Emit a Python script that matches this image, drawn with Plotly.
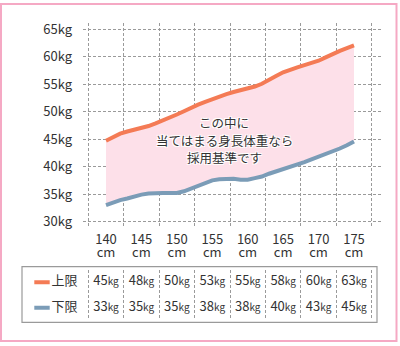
import plotly.graph_objects as go

# ---------------- data ----------------
heights = list(range(140, 176))
upper = [44.7, 45.4, 46.0, 46.4, 46.7, 47.0, 47.4, 47.9, 48.4, 48.9,
         49.5, 50.1, 50.8, 51.3, 51.8, 52.3, 52.8, 53.2, 53.6, 53.9,
         54.2, 54.6, 55.1, 55.7, 56.5, 57.2, 57.7, 58.1, 58.5, 58.9,
         59.3, 59.9, 60.6, 61.1, 61.6, 62.1]
lower = [33.0, 33.5, 33.9, 34.2, 34.6, 34.9, 35.1, 35.2, 35.2, 35.2,
         35.2, 35.5, 36.0, 36.5, 37.1, 37.5, 37.7, 37.8, 37.8, 37.6,
         37.6, 37.9, 38.2, 38.7, 39.1, 39.5, 39.9, 40.3, 40.8, 41.3,
         41.8, 42.2, 42.7, 43.3, 43.9, 44.6]

table_heights = [140, 145, 150, 155, 160, 165, 170, 175]
table_upper = [45, 48, 50, 53, 55, 58, 60, 63]
table_lower = [33, 35, 35, 38, 38, 40, 43, 45]
row_labels = ["上限", "下限"]

y_ticks = [30, 35, 40, 45, 50, 55, 60, 65]
y_tick_labels = [f"{v}kg" for v in y_ticks]
x_tick_numbers = [str(h) for h in table_heights]
x_tick_units = ["cm"] * len(table_heights)
cell_edges = [137.5 + 5 * i for i in range(9)]

note_lines = ["この中に", "当てはまる身長体重なら", "採用基準です"]

# ---------------- style ----------------
W, H = 400, 346
FONT = "Noto Sans CJK JP"
C_UP = "#f47b55"
C_LO = "#7b9cb7"
C_FILL = "#fde0e9"
C_GRID = "#9a9a9a"
C_TXT = "#333333"
C_BORDER = "#f5a9c4"

S = 248 / 35.0  # px per cm
X140 = 106


def xr(p0, p1):
    return [140 + (p0 - X140) / S, 140 + (p1 - X140) / S]


def dx(p0, p1):
    return [p0 / W, p1 / W]


def dy(top, bottom):
    return [1 - bottom / H, 1 - top / H]


fig = go.Figure()

# fill between lines
fig.add_trace(go.Scatter(x=heights, y=lower, mode="lines", line=dict(width=0),
                         hoverinfo="skip", showlegend=False, xaxis="x", yaxis="y"))
fig.add_trace(go.Scatter(x=heights, y=upper, mode="lines", line=dict(width=0),
                         fill="tonexty", fillcolor=C_FILL, hoverinfo="skip",
                         showlegend=False, xaxis="x", yaxis="y"))
# lines
fig.add_trace(go.Scatter(x=heights, y=upper, mode="lines", name="上限",
                         line=dict(color=C_UP, width=4), showlegend=False,
                         xaxis="x", yaxis="y"))
fig.add_trace(go.Scatter(x=heights, y=lower, mode="lines", name="下限",
                         line=dict(color=C_LO, width=4), showlegend=False,
                         xaxis="x", yaxis="y"))
# invisible traces so the label axes (x2, x4) are drawn
for ax in ("x2", "x4"):
    fig.add_trace(go.Scatter(x=table_heights, y=table_upper, mode="markers",
                             marker=dict(opacity=0), hoverinfo="skip",
                             showlegend=False, xaxis=ax, yaxis="y"))

# table values
def fmt(v):
    return f"{v}<span style='font-size:10px'>kg</span>"

fig.add_trace(go.Scatter(x=table_heights, y=[1] * len(table_heights), mode="text",
                         text=[fmt(v) for v in table_upper],
                         textfont=dict(family=FONT, size=13, color=C_TXT),
                         showlegend=False, xaxis="x3", yaxis="y3"))
fig.add_trace(go.Scatter(x=table_heights, y=[0] * len(table_heights), mode="text",
                         text=[fmt(v) for v in table_lower],
                         textfont=dict(family=FONT, size=13, color=C_TXT),
                         showlegend=False, xaxis="x3", yaxis="y3"))
# legend column in table
LEG_SW = 140 + (42 - X140) / S
LEG_TX = 140 + (64.5 - X140) / S
fig.add_trace(go.Scatter(x=[LEG_SW, LEG_SW], y=[1, 0], mode="markers",
                         marker=dict(symbol="line-ew-open", size=11,
                                     color=[C_UP, C_LO],
                                     line=dict(width=4, color=[C_UP, C_LO])),
                         showlegend=False, xaxis="x3", yaxis="y3"))
fig.add_trace(go.Scatter(x=[LEG_TX, LEG_TX], y=[1, 0], mode="text", text=row_labels,
                         textfont=dict(family=FONT, size=13, color=C_TXT),
                         showlegend=False, xaxis="x3", yaxis="y3"))

grid_common = dict(showgrid=True, gridcolor=C_GRID, gridwidth=1, griddash="3px,2px",
                   zeroline=False, showline=False, ticks="")

label_axis = dict(domain=dx(83, 382), range=xr(83, 382), tickmode="array",
                  tickvals=table_heights, overlaying="x", anchor="y", side="bottom",
                  showgrid=False, zeroline=False, showline=False, ticks="",
                  tickfont=dict(family=FONT, size=13, color=C_TXT))

shadow = "1px 1px 0 #fff, -1px -1px 0 #fff, 1px -1px 0 #fff, -1px 1px 0 #fff"
note_y = [122, 140, 158]
annotations = [
    dict(text=t, xref="paper", yref="paper", x=224 / W, y=1 - yy / H,
         xanchor="center", yanchor="middle", showarrow=False, align="center",
         font=dict(family=FONT, size=12.5, color=C_TXT, shadow=shadow))
    for t, yy in zip(note_lines, note_y)
]

fig.update_layout(
    width=W, height=H,
    margin=dict(l=0, r=0, t=0, b=0),
    paper_bgcolor="white", plot_bgcolor="rgba(0,0,0,0)",
    font=dict(family=FONT, size=13, color=C_TXT),
    xaxis=dict(domain=dx(83, 382), range=xr(83, 382), tickmode="array",
               tickvals=cell_edges, showticklabels=False, anchor="y", **grid_common),
    xaxis2=dict(ticktext=x_tick_numbers, ticklabelstandoff=4, **label_axis),
    xaxis4=dict(ticktext=x_tick_units, ticklabelstandoff=17, **label_axis),
    yaxis=dict(domain=dy(20, 228), range=[30 - 5 / 5.6, 30 + 203 / 5.6],
               tickmode="array", tickvals=y_ticks, ticktext=y_tick_labels,
               anchor="x", ticklabelstandoff=10,
               tickfont=dict(family=FONT, size=13, color=C_TXT), **grid_common),
    xaxis3=dict(domain=dx(22, 377), range=xr(22, 377), tickmode="array",
                tickvals=cell_edges, showticklabels=False, anchor="y3", **grid_common),
    yaxis3=dict(domain=dy(273, 321), range=[-10 / 26, 1 + 12 / 26],
                showgrid=False, showticklabels=False, zeroline=False,
                showline=False, ticks="", anchor="x3"),
    showlegend=False,
    shapes=[
        dict(type="rect", xref="paper", yref="paper",
             x0=22 / W, x1=377 / W, y0=1 - 326 / H, y1=1 - 269 / H,
             line=dict(color="#9a9a9a", width=1.2), fillcolor="rgba(0,0,0,0)"),
        dict(type="rect", xref="paper", yref="paper",
             x0=1 / W, x1=396.5 / W, y0=1 - 345 / H, y1=1 - 1 / H,
             line=dict(color=C_BORDER, width=2), fillcolor="rgba(0,0,0,0)"),
    ],
    annotations=annotations,
)

fig.write_html("out.html")
